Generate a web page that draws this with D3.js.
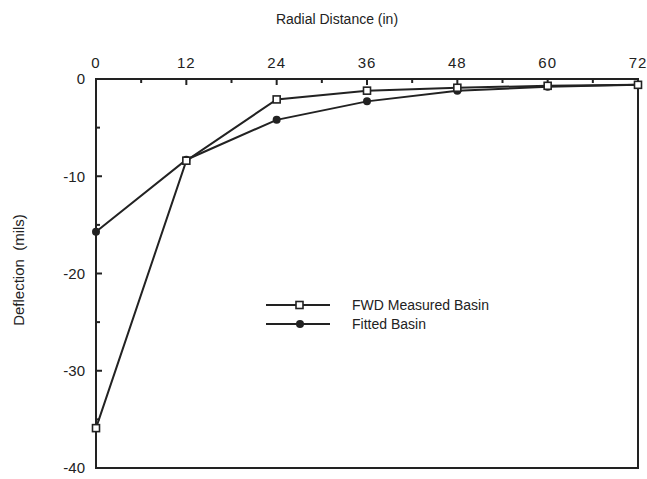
<!DOCTYPE html>
<html>
<head>
<meta charset="utf-8">
<script src="https://cdn.jsdelivr.net/npm/d3@7"></script>
<style>
  body { margin: 0; background: #fff; }
  text { font-family: 'Liberation Sans', Arial, sans-serif; fill: #222; }
</style>
</head>
<body>
<div id="chart"></div>
<script>
let distances = [0, 12, 24, 36, 48, 60, 72]
let measured = [-35.9, -8.4, -2.1, -1.2, -0.9, -0.7, -0.6]
let fitted = [-15.7, -8.3, -4.2, -2.3, -1.2, -0.8, -0.6]
let xTicks = [0, 12, 24, 36, 48, 60, 72]
let yTicks = [0, -10, -20, -30, -40]

let margin = { top: 79, left: 96, right: 9, bottom: 11 }

let svg = d3
  .select('#chart')
  .append('svg')
  .attr('width', 647)
  .attr('height', 479)

let g = svg.append('g').attr('transform', `translate(${margin.left}, ${margin.top})`)

let x = d3.scaleLinear().domain([0, 72]).range([0, 542])
let y = d3.scaleLinear().domain([0, -40]).range([0, 389])

// frame
g.append('rect')
  .attr('x', 0)
  .attr('y', 0)
  .attr('width', x(72))
  .attr('height', y(-40))
  .attr('fill', 'none')
  .attr('stroke', '#222')
  .attr('stroke-width', 2)

// x ticks (top, pointing in)
g.selectAll('.xtick')
  .data(d3.range(0, 73, 6))
  .enter()
  .append('line')
  .attr('x1', d => x(d))
  .attr('x2', d => x(d))
  .attr('y1', 0)
  .attr('y2', d => (d % 12 === 0 ? 6 : 4))
  .attr('stroke', '#222')
  .attr('stroke-width', 2)

g.selectAll('.xlabel')
  .data(xTicks)
  .enter()
  .append('text')
  .attr('x', d => x(d))
  .attr('y', -11)
  .attr('text-anchor', 'middle')
  .style('font-size', '15px')
  .style('letter-spacing', '1px')
  .text(d => d)

// y ticks (left, pointing in)
g.selectAll('.ytick')
  .data(d3.range(0, -41, -5))
  .enter()
  .append('line')
  .attr('x1', 0)
  .attr('x2', d => (d % 10 === 0 ? 6 : 4))
  .attr('y1', d => y(d))
  .attr('y2', d => y(d))
  .attr('stroke', '#222')
  .attr('stroke-width', 2)

g.selectAll('.ylabel')
  .data(yTicks)
  .enter()
  .append('text')
  .attr('x', -11)
  .attr('y', d => y(d))
  .attr('dy', '0.35em')
  .attr('text-anchor', 'end')
  .style('font-size', '15px')
  .text(d => d)

// titles
svg.append('text')
  .attr('x', 337)
  .attr('y', 24)
  .attr('text-anchor', 'middle')
  .style('font-size', '14px')
  .text('Radial Distance (in)')

svg.append('text')
  .attr('transform', 'translate(24, 270) rotate(-90)')
  .attr('text-anchor', 'middle')
  .style('font-size', '15px')
  .style('white-space', 'pre')
  .text('Deflection  (mils)')

let line = d3.line()
  .x((d, i) => x(distances[i]))
  .y(d => y(d))

// fitted
g.append('path')
  .datum(fitted)
  .attr('d', line)
  .attr('fill', 'none')
  .attr('stroke', '#222')
  .attr('stroke-width', 2)

g.selectAll('.fit-dot')
  .data(fitted)
  .enter()
  .append('circle')
  .attr('cx', (d, i) => x(distances[i]))
  .attr('cy', d => y(d))
  .attr('r', 4)
  .attr('fill', '#222')

// measured
g.append('path')
  .datum(measured)
  .attr('d', line)
  .attr('fill', 'none')
  .attr('stroke', '#222')
  .attr('stroke-width', 2)

g.selectAll('.meas-sq')
  .data(measured)
  .enter()
  .append('rect')
  .attr('x', (d, i) => x(distances[i]) - 3.5)
  .attr('y', d => y(d) - 3.5)
  .attr('width', 7)
  .attr('height', 7)
  .attr('fill', '#fff')
  .attr('stroke', '#222')
  .attr('stroke-width', 1.6)

// legend
let legendText = ['FWD Measured Basin', 'Fitted Basin']
let legend = svg.selectAll('.legend')
  .data(legendText)
  .enter()
  .append('g')
  .attr('transform', (d, i) => `translate(266, ${305 + i * 19})`)

legend.append('line')
  .attr('x1', 0)
  .attr('x2', 64)
  .attr('stroke', '#222')
  .attr('stroke-width', 2)

legend.filter((d, i) => i === 0)
  .append('rect')
  .attr('x', 30)
  .attr('y', -3.5)
  .attr('width', 7)
  .attr('height', 7)
  .attr('fill', '#fff')
  .attr('stroke', '#222')
  .attr('stroke-width', 1.6)

legend.filter((d, i) => i === 1)
  .append('circle')
  .attr('cx', 34)
  .attr('r', 4)
  .attr('fill', '#222')

legend.append('text')
  .attr('x', 86)
  .attr('dy', '0.35em')
  .style('font-size', '14px')
  .text(d => d)
</script>
</body>
</html>
